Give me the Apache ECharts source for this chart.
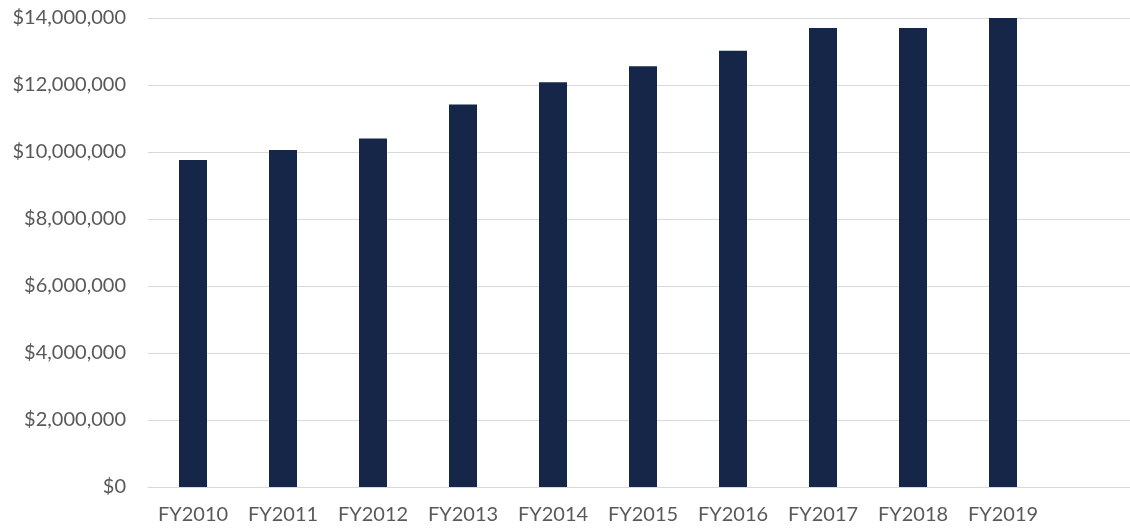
<!DOCTYPE html>
<html>
<head>
<meta charset="utf-8">
<script src="https://cdn.jsdelivr.net/npm/echarts@6/dist/echarts.min.js"></script>
<style>
  html, body { margin: 0; padding: 0; background: #fff; }
  #main { width: 1130px; height: 531px; }
</style>
</head>
<body>
<div id="main"></div>
<script>
var years = ['FY2010', 'FY2011', 'FY2012', 'FY2013', 'FY2014', 'FY2015', 'FY2016', 'FY2017', 'FY2018', 'FY2019']
var funding = [9760000, 10060000, 10400000, 11420000, 12080000, 12560000, 13020000, 13700000, 13700000, 14000000]
var yMin = 0
var yMax = 14000000
var yStep = 2000000

var myChart = echarts.init(document.getElementById('main'))
var option = {
  animation: false,
  grid: {
    left: 148,
    width: 990,
    top: 18,
    bottom: 44,
    containLabel: false,
    outerBoundsMode: 'none'
  },
  xAxis: {
    type: 'category',
    data: years,
    max: years.length,
    axisLine: { lineStyle: { color: '#d9d9d9', width: 1 } },
    axisTick: { show: false },
    axisLabel: {
      color: '#595959',
      fontFamily: 'Lato',
      fontSize: 20,
      margin: 18,
      interval: 0
    }
  },
  yAxis: {
    type: 'value',
    min: yMin,
    max: yMax,
    interval: yStep,
    axisLine: { show: false },
    axisTick: { show: false },
    splitLine: { lineStyle: { color: '#d9d9d9', width: 1 } },
    axisLabel: {
      color: '#595959',
      fontFamily: 'Lato',
      fontSize: 20,
      margin: 22,
      formatter: function (v) {
        return '$' + v.toLocaleString('en-US')
      }
    }
  },
  series: [{
    type: 'bar',
    data: funding,
    barWidth: 28,
    itemStyle: { color: '#152649' }
  }]
}
myChart.setOption(option)
</script>
</body>
</html>
